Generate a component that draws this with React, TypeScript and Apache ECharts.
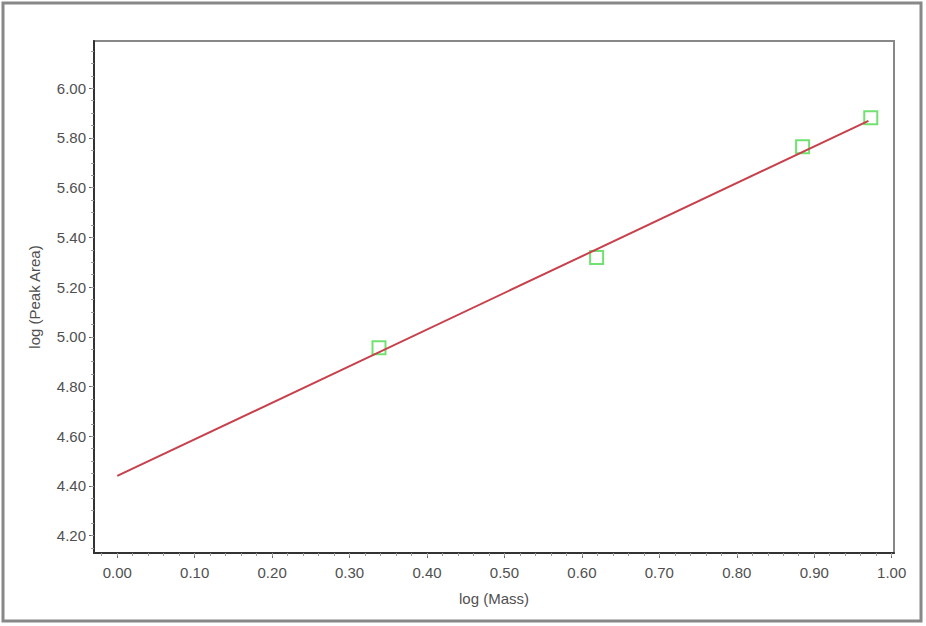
import { useEffect, useRef } from 'react'
import * as echarts from 'echarts'

const xTicks = [0, 0.1, 0.2, 0.3, 0.4, 0.5, 0.6, 0.7, 0.8, 0.9, 1.0]
const yTicks = [4.2, 4.4, 4.6, 4.8, 5.0, 5.2, 5.4, 5.6, 5.8, 6.0]
const massLog = [0.338, 0.619, 0.885, 0.973]
const areaLog = [4.956, 5.319, 5.765, 5.881]
const fitX = [0, 0.97]
const fitY = [4.44, 5.869]

const X_MIN = -0.03, X_MAX = 1.003, Y_MIN = 4.13, Y_MAX = 6.19

export default function App() {
  const ref = useRef<HTMLDivElement>(null)

  useEffect(() => {
    if (!ref.current) return
    const chart = echarts.init(ref.current, null, { renderer: 'svg' })
    // minor tick positions, between the majors
    const xMinor: number[] = []
    for (let v = -0.02; v <= 1.0001; v += 0.02) xMinor.push(+v.toFixed(2))
    const yMinor: number[] = []
    for (let v = 4.15; v <= 6.1501; v += 0.05) yMinor.push(+v.toFixed(2))
    const font = 'Liberation Sans, Arial, sans-serif'
    const lbl = { color: '#505050', fontSize: 15, fontFamily: font }
    const axLine = { show: true, onZero: false, lineStyle: { color: '#333', width: 2 } }

    chart.setOption({
      animation: false,
      backgroundColor: '#fff',
      grid: { left: 94, top: 41, right: 32, bottom: 73, show: true, borderColor: '#888', borderWidth: 2 },
      xAxis: [
        { type: 'value', min: X_MIN, max: X_MAX, position: 'bottom', splitLine: { show: false },
          axisLine: axLine,
          axisTick: { show: true, length: 5, customValues: xTicks, lineStyle: { color: '#666' } },
          axisLabel: { ...lbl, margin: 12, customValues: xTicks, formatter: (v: number) => v.toFixed(2) },
          name: 'log (Mass)', nameLocation: 'middle', nameGap: 38, nameTextStyle: { ...lbl } },
        { type: 'value', min: X_MIN, max: X_MAX, position: 'bottom', splitLine: { show: false },
          axisLine: { show: false, onZero: false }, axisLabel: { show: false },
          axisTick: { show: true, length: 3, customValues: xMinor, lineStyle: { color: '#999' } } },
      ],
      yAxis: [
        { type: 'value', min: Y_MIN, max: Y_MAX, position: 'left', splitLine: { show: false },
          axisLine: axLine,
          axisTick: { show: true, length: 5, customValues: yTicks, lineStyle: { color: '#666' } },
          axisLabel: { ...lbl, margin: 8, customValues: yTicks, formatter: (v: number) => v.toFixed(2) },
          name: 'log (Peak Area)', nameLocation: 'middle', nameGap: 52, nameTextStyle: { ...lbl } },
        { type: 'value', min: Y_MIN, max: Y_MAX, position: 'left', splitLine: { show: false },
          axisLine: { show: false, onZero: false }, axisLabel: { show: false },
          axisTick: { show: true, length: 3, customValues: yMinor, lineStyle: { color: '#999' } } },
      ],
      series: [
        { type: 'line', data: fitX.map((x, i) => [x, fitY[i]]), symbol: 'none',
          lineStyle: { color: '#c8404c', width: 2 } },
        { type: 'scatter', data: massLog.map((x, i) => [x, areaLog[i]]), symbol: 'rect', symbolSize: 13,
          itemStyle: { color: 'rgba(255,255,255,0)', borderColor: '#4ed94e', borderWidth: 2 } },
      ],
      graphic: [
        { type: 'rect', shape: { x: 3, y: 3, width: 918, height: 618 }, silent: true,
          style: { fill: 'none', stroke: '#888', lineWidth: 3 } },
      ],
    })
    return () => chart.dispose()
  }, [])

  return <div ref={ref} style={{ position: 'absolute', left: 0, top: 0, width: 926, height: 626 }} />
}
